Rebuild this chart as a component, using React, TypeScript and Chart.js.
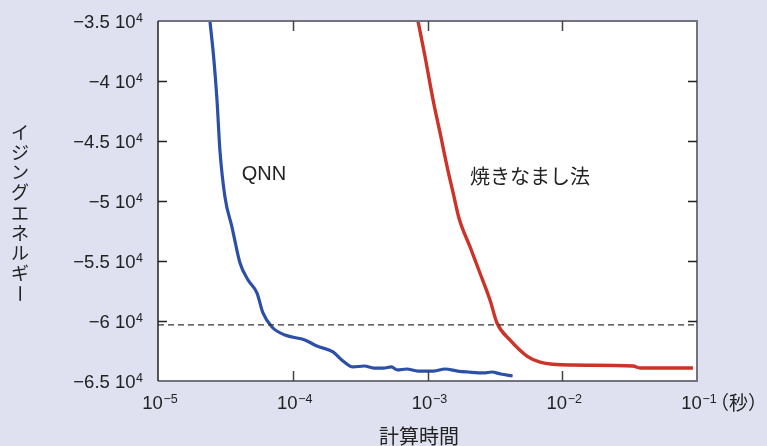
import { useEffect, useRef } from "react";
import { Chart, registerables } from "chart.js";

Chart.register(...registerables);

// ---- data ----
const xTickValues = [1e-5, 1e-4, 1e-3, 1e-2, 1e-1];
const xTickBase = "10";
const xTickExponents = ["−5", "−4", "−3", "−2", "−1"];
const yTickValues = [-35000, -40000, -45000, -50000, -55000, -60000, -65000];
const yTickMantissas = ["−3.5", "−4", "−4.5", "−5", "−5.5", "−6", "−6.5"];
const yTickExponent = "4";

const qnnTime = [2.43e-5, 2.6e-5, 2.74e-5, 2.88e-5, 3.14e-5, 3.54e-5, 4.06e-5, 4.66e-5, 5.43e-5, 6.01e-5, 7.01e-5, 8.76e-5, 1.23e-4, 1.51e-4, 1.99e-4, 2.36e-4, 2.8e-4, 3.4e-4, 4.0e-4, 4.71e-4, 5.4e-4, 5.98e-4, 7.0e-4, 8.5e-4, 1.11e-3, 1.35e-3, 1.67e-3, 2.0e-3, 2.61e-3, 3.0e-3, 3.49e-3, 4.28e-3];
const qnnEnergy = [-35000, -38250, -41580, -45750, -49670, -52170, -55170, -56580, -57670, -59330, -60500, -61170, -61580, -62080, -62580, -63330, -63830, -63750, -63920, -63920, -63830, -64080, -64000, -64170, -64170, -64000, -64170, -64250, -64330, -64250, -64420, -64580];

const saTime = [8.5e-4, 9.57e-4, 1.1e-3, 1.24e-3, 1.4e-3, 1.55e-3, 1.72e-3, 2.07e-3, 2.45e-3, 2.91e-3, 3.28e-3, 4.09e-3, 5.47e-3, 6.84e-3, 1.2e-2, 3.35e-2, 3.78e-2, 9.33e-2];
const saEnergy = [-35000, -37920, -41580, -44330, -47170, -49330, -51500, -53830, -56000, -58250, -60170, -61580, -62920, -63420, -63670, -63750, -63920, -63920];

const referenceEnergy = -60330;

const BG = "#dfe0f0";
const FONT = "'Liberation Sans', 'Noto Sans CJK JP', sans-serif";
const JP = "'Noto Sans CJK JP', 'Liberation Sans', sans-serif";

function drawSup(ctx: CanvasRenderingContext2D, base: string, sup: string, x: number, yMid: number, align: "right" | "center") {
  const bs = 18.5;
  const ss = 12.5;
  ctx.font = `${bs}px ${FONT}`;
  const bw = ctx.measureText(base).width;
  ctx.font = `${ss}px ${FONT}`;
  const sw = ctx.measureText(sup).width;
  const gap = 0.5;
  const total = bw + gap + sw;
  const start = align === "right" ? x - total : x - total / 2;
  const baseCap = 0.716 * bs;
  const yb = yMid + baseCap / 2;
  ctx.textAlign = "left";
  ctx.textBaseline = "alphabetic";
  ctx.font = `${bs}px ${FONT}`;
  ctx.fillText(base, start, yb);
  ctx.font = `${ss}px ${FONT}`;
  ctx.fillText(sup, start + bw + gap, yb - baseCap + 0.716 * ss - 1.5);
}

export default function App() {
  const ref = useRef<HTMLCanvasElement>(null);

  useEffect(() => {
    const decor = {
      id: "decor",
      beforeDraw(chart: any) {
        const { ctx, chartArea: a } = chart;
        ctx.save();
        ctx.fillStyle = BG;
        ctx.fillRect(0, 0, chart.width, chart.height);
        ctx.fillStyle = "#ffffff";
        ctx.fillRect(a.left, a.top, a.right - a.left, a.bottom - a.top);
        ctx.restore();
      },
      afterDatasetsDraw(chart: any) {
        const { ctx, chartArea: a, scales } = chart;
        const xs = scales.x;
        const ys = scales.y;
        ctx.save();
        // frame
        ctx.strokeStyle = "#727280";
        ctx.lineWidth = 2;
        ctx.beginPath();
        ctx.moveTo(a.left, a.top);
        ctx.lineTo(a.right, a.top);
        ctx.lineTo(a.right, a.bottom);
        ctx.lineTo(a.left, a.bottom);
        ctx.stroke();
        ctx.strokeStyle = "#222";
        ctx.lineWidth = 1.5;
        ctx.beginPath();
        ctx.moveTo(a.left, a.top);
        ctx.lineTo(a.left, a.bottom);
        ctx.stroke();
        // y tick marks
        ctx.strokeStyle = "#222";
        ctx.lineWidth = 1.5;
        yTickValues.slice(1, -1).forEach((v) => {
          const y = Math.round(ys.getPixelForValue(v)) + 0.5;
          ctx.beginPath();
          ctx.moveTo(a.left, y);
          ctx.lineTo(a.left + 9, y);
          ctx.moveTo(a.right - 9, y);
          ctx.lineTo(a.right, y);
          ctx.stroke();
        });
        // x tick marks
        ctx.strokeStyle = "#444";
        xTickValues.slice(1, -1).forEach((v) => {
          const x = Math.round(xs.getPixelForValue(v)) + 0.5;
          ctx.beginPath();
          ctx.moveTo(x, a.bottom);
          ctx.lineTo(x, a.bottom - 10);
          ctx.moveTo(x, a.top);
          ctx.lineTo(x, a.top + 10);
          ctx.stroke();
        });
        // tick labels
        ctx.fillStyle = "#222";
        yTickValues.forEach((v, i) => {
          drawSup(ctx, `${yTickMantissas[i]} 10`, yTickExponent, a.left - 15, ys.getPixelForValue(v) + 0.5, "right");
        });
        xTickValues.forEach((v, i) => {
          drawSup(ctx, xTickBase, xTickExponents[i], xs.getPixelForValue(v) + 2, 402, "center");
        });
        // series labels
        ctx.textAlign = "center";
        ctx.textBaseline = "middle";
        ctx.font = `20px ${FONT}`;
        ctx.fillText("QNN", xs.getPixelForValue(6.12e-5), ys.getPixelForValue(-47750));
        ctx.font = `20px ${JP}`;
        ctx.fillText("焼きなまし法", xs.getPixelForValue(5.77e-3), ys.getPixelForValue(-47920));
        // x title
        ctx.font = `20px ${JP}`;
        ctx.fillText("計算時間", 419, 436);
        // unit
        ctx.textAlign = "left";
        ctx.font = `19px ${JP}`;
        ctx.fillText("（秒）", 710, 403);
        // y title vertical
        const chars = Array.from("イジングエネルギー");
        ctx.font = `18px ${JP}`;
        ctx.textAlign = "center";
        chars.forEach((c, i) => {
          const cy = 132 + i * 20.2;
          if (c === "ー") {
            ctx.save();
            ctx.translate(20, cy);
            ctx.rotate(Math.PI / 2);
            ctx.fillText(c, 0, 0);
            ctx.restore();
          } else {
            ctx.fillText(c, 20, cy);
          }
        });
        ctx.restore();
      },
    };

    const chart = new Chart(ref.current!, {
      type: "scatter",
      data: {
        datasets: [
          {
            label: "reference",
            data: [
              { x: xTickValues[0], y: referenceEnergy },
              { x: xTickValues[xTickValues.length - 1], y: referenceEnergy },
            ],
            showLine: true,
            borderColor: "#333",
            borderWidth: 1.2,
            borderDash: [6, 4],
            pointRadius: 0,
            order: 0,
          },
          {
            label: "QNN",
            data: qnnTime.map((t, i) => ({ x: t, y: qnnEnergy[i] })),
            showLine: true,
            borderColor: "#2c4fa8",
            borderWidth: 3.2,
            pointRadius: 0,
            cubicInterpolationMode: "monotone",
            order: 1,
          },
          {
            label: "焼きなまし法",
            data: saTime.map((t, i) => ({ x: t, y: saEnergy[i] })),
            showLine: true,
            borderColor: "#cc3329",
            borderWidth: 3.4,
            pointRadius: 0,
            cubicInterpolationMode: "monotone",
            order: 2,
          },
        ],
      },
      options: {
        animation: false,
        responsive: false,
        devicePixelRatio: 1,
        layout: { padding: { top: 21, right: 70, left: 0, bottom: 0 } },
        plugins: { legend: { display: false }, tooltip: { enabled: false } },
        scales: {
          x: {
            type: "logarithmic",
            min: 1e-5,
            max: 1e-1,
            afterBuildTicks: (s: any) => {
              s.ticks = xTickValues.map((v) => ({ value: v }));
            },
            afterFit: (s: any) => {
              s.height = 65;
            },
            grid: { display: false, drawTicks: false },
            border: { display: false },
            ticks: { display: false },
          },
          y: {
            type: "linear",
            min: -65000,
            max: -35000,
            afterBuildTicks: (s: any) => {
              s.ticks = yTickValues.map((v) => ({ value: v }));
            },
            afterFit: (s: any) => {
              s.width = 158;
            },
            grid: { display: false, drawTicks: false },
            border: { display: false },
            ticks: { display: false },
          },
        },
      },
      plugins: [decor],
    } as any);
    return () => chart.destroy();
  }, []);

  return (
    <div style={{ position: "fixed", left: 0, top: 0, width: 767, height: 446, background: BG }}>
      <canvas ref={ref} width={767} height={446} style={{ display: "block" }} />
    </div>
  );
}
